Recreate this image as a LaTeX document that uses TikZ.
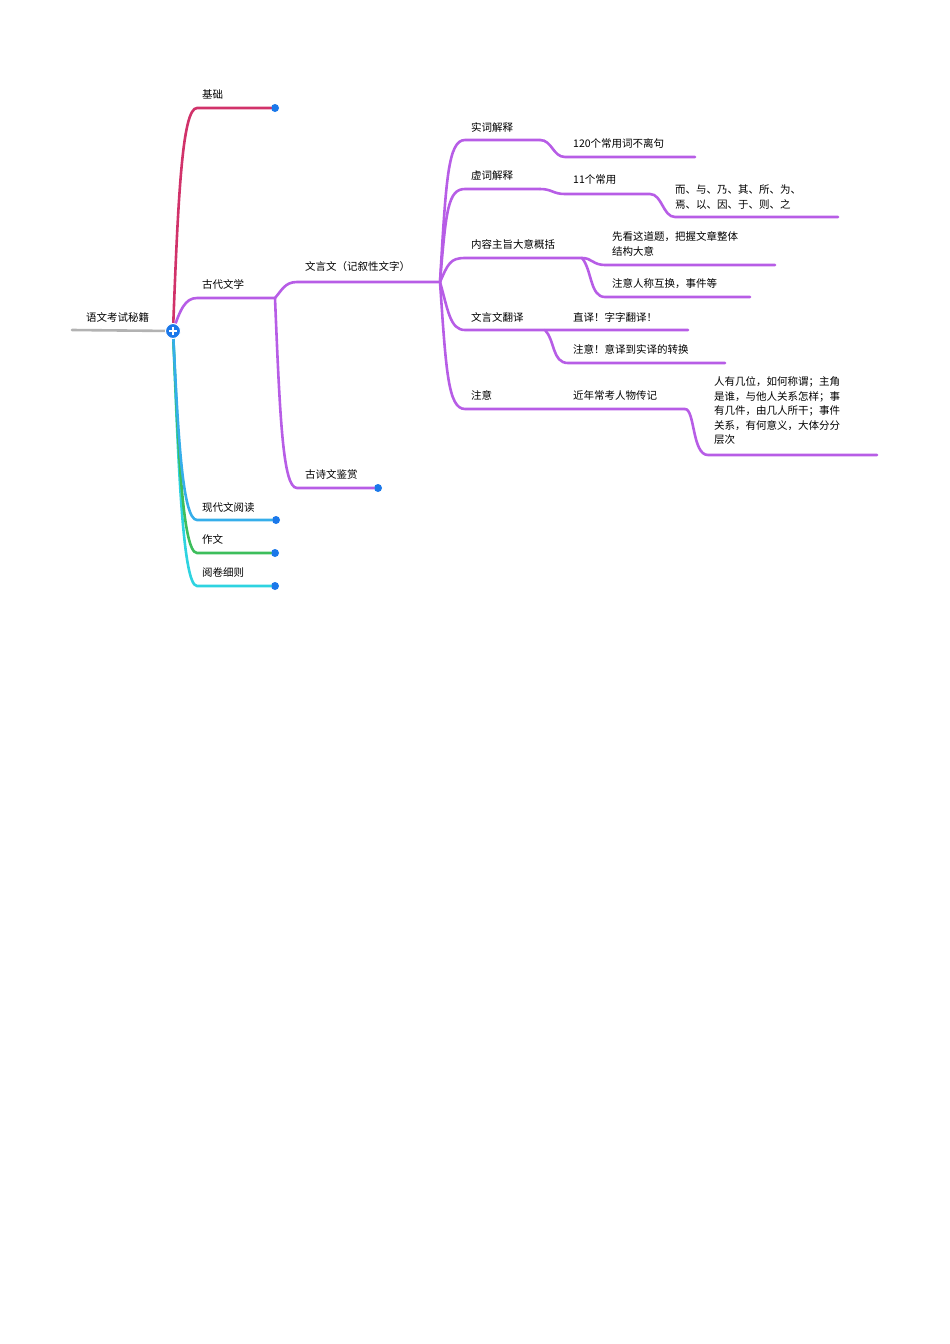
\documentclass[tikz,border=0pt]{standalone}
\usepackage{fontspec}
\setmainfont{Noto Sans CJK SC}
\begin{document}
\begin{tikzpicture}[x=1pt,y=-1pt,
  lbl/.style={anchor=west,inner sep=0pt,font=\fontsize{10.5}{14.5}\selectfont,align=left},
  br/.style={line width=2.6pt,line cap=round},
  pu/.style={br,draw=purp},
  dotc/.style={circle,fill=dotb,inner sep=0pt,minimum size=8pt}]
\definecolor{purp}{HTML}{B75DE6}
\definecolor{redc}{HTML}{D1326A}
\definecolor{cyanc}{HTML}{2ED3E0}
\definecolor{bluec}{HTML}{35AEEA}
\definecolor{greenc}{HTML}{3DBE5C}
\definecolor{dotb}{HTML}{1B78EA}
\useasboundingbox (0,0) rectangle (950,1344);
% root
\coordinate (r0) at (72,330);
\coordinate (root) at (173,331);
\draw[br,draw=gray!60] (r0) -- (root);
\node[lbl] (troot) at (86,317) {语文考试秘籍};
% first level
\coordinate (a1) at (197,108); \node[dotc] (d1) at (275,108) {};
\coordinate (a2) at (197,298); \coordinate (a2e) at (275,298);
\coordinate (a3) at (197,520); \node[dotc] (d3) at (276,520) {};
\coordinate (a4) at (197,553); \node[dotc] (d4) at (275,553) {};
\coordinate (a5) at (197,586); \node[dotc] (d5) at (275,586) {};
\draw[br,draw=redc] (root) .. controls (178,200) and (182,108) .. (a1) -- (d1);
\draw[br,draw=cyanc] (root) .. controls (178,450) and (182,586) .. (a5) -- (d5);
\draw[br,draw=greenc] (root) .. controls (178,440) and (182,553) .. (a4) -- (d4);
\draw[br,draw=bluec] (root) .. controls (178,430) and (182,520) .. (a3) -- (d3);
\draw[pu] (root) .. controls (180,310) and (185,298) .. (a2) -- (a2e);
\node[lbl] (t1) at (202,94) {基础};
\node[lbl] (t2) at (202,284) {古代文学};
\node[lbl] (t3) at (202,507) {现代文阅读};
\node[lbl] (t4) at (202,539) {作文};
\node[lbl] (t5) at (202,572) {阅卷细则};
\node[circle,fill=dotb,draw=white,line width=1pt,minimum size=15pt,inner sep=0pt] (plus) at (root) {};
\draw[white,line width=1.6pt] ([xshift=-4pt]plus.center) -- ([xshift=4pt]plus.center) ([yshift=-4pt]plus.center) -- ([yshift=4pt]plus.center);
% level 2
\coordinate (b1) at (297,282); \coordinate (b1e) at (440,282);
\coordinate (b2) at (297,488); \node[dotc] (d6) at (378,488) {};
\draw[pu] (a2e) .. controls (282,290) and (285,282) .. (b1) -- (b1e);
\draw[pu] (a2e) .. controls (280,420) and (283,488) .. (b2) -- (d6);
\node[lbl] (t6) at (305,267) {文言文（记叙性文字）};
\node[lbl] (t7) at (305,474) {古诗文鉴赏};
% level 3
\coordinate (c1) at (465,140); \coordinate (c1e) at (540,140);
\coordinate (c2) at (465,189); \coordinate (c2e) at (540,189);
\coordinate (c3) at (465,258); \coordinate (c3e) at (582,258);
\coordinate (c4) at (465,330); \coordinate (c4e) at (688,330);
\coordinate (c5) at (465,409); \coordinate (c5e) at (685,409);
\draw[pu] (b1e) .. controls (446,180) and (448,140) .. (c1) -- (c1e);
\draw[pu] (b1e) .. controls (446,210) and (448,189) .. (c2) -- (c2e);
\draw[pu] (b1e) .. controls (448,264) and (450,258) .. (c3) -- (c3e);
\draw[pu] (b1e) .. controls (448,310) and (450,330) .. (c4) -- (c4e);
\draw[pu] (b1e) .. controls (446,370) and (448,409) .. (c5) -- (c5e);
\node[lbl] (u1) at (471,127) {实词解释};
\node[lbl] (u2) at (471,176) {虚词解释};
\node[lbl] (u3) at (471,244) {内容主旨大意概括};
\node[lbl] (u4) at (471,317) {文言文翻译};
\node[lbl] (u5) at (471,395) {注意};
% level 4
\coordinate (e1) at (565,157); \coordinate (e1e) at (695,157);
\draw[pu] (c1e) .. controls (552,140) and (553,157) .. (e1) -- (e1e);
\node[lbl] (v1) at (573,143) {120个常用词不离句};
\coordinate (e2) at (565,194); \coordinate (e2e) at (650,194);
\coordinate (e3) at (675,217); \coordinate (e3e) at (838,217);
\draw[pu] (c2e) .. controls (552,189) and (553,194) .. (e2) -- (e2e) .. controls (662,194) and (663,217) .. (e3) -- (e3e);
\node[lbl] (v2) at (573,180) {11个常用};
\node[lbl] (v3) at (675,197) {而、与、乃、其、所、为、\\焉、以、因、于、则、之};
\coordinate (e4) at (605,265); \coordinate (e4e) at (775,265);
\coordinate (e5) at (605,297); \coordinate (e5e) at (750,297);
\draw[pu] (c3e) .. controls (592,258) and (593,265) .. (e4) -- (e4e);
\draw[pu] (c3e) .. controls (592,270) and (590,297) .. (e5) -- (e5e);
\node[lbl] (v4) at (612,244) {先看这道题，把握文章整体\\结构大意};
\node[lbl] (v5) at (612,284) {注意人称互换，事件等};
\coordinate (e6) at (568,363); \coordinate (e6e) at (725,363);
\coordinate (c4m) at (545,330);
\draw[pu] (c4m) .. controls (555,340) and (552,363) .. (e6) -- (e6e);
\node[lbl] (v6) at (573,317) {直译！字字翻译！};
\node[lbl] (v7) at (573,349) {注意！意译到实译的转换};
\coordinate (e7) at (708,455); \coordinate (e7e) at (877,455);
\draw[pu] (c5e) .. controls (695,409) and (692,455) .. (e7) -- (e7e);
\node[lbl] (v8) at (573,395) {近年常考人物传记};
\node[lbl] (v9) at (714,411) {人有几位，如何称谓；主角\\是谁，与他人关系怎样；事\\有几件，由几人所干；事件\\关系，有何意义，大体分分\\层次};
\end{tikzpicture}
\end{document}
